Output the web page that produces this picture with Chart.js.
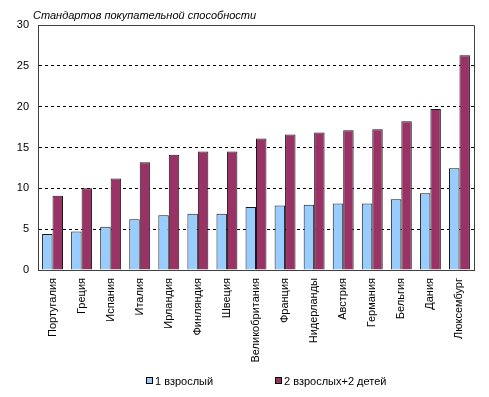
<!DOCTYPE html>
<html>
<head>
<meta charset="utf-8">
<script src="https://cdn.jsdelivr.net/npm/chart.js@4.4.0/dist/chart.umd.min.js"></script>
<style>
    html, body { margin: 0; padding: 0; background: #ffffff; }
    #wrap { width: 489px; height: 397px; }
</style>
</head>
<body>
<div id="wrap"><canvas id="ppsChart" width="489" height="397"></canvas></div>
<script>
// Dados do gráfico
const paises = ['Португалия', 'Греция', 'Испания', 'Италия', 'Ирландия', 'Финляндия', 'Швеция',
    'Великобритания', 'Франция', 'Нидерланды', 'Австрия', 'Германия', 'Бельгия', 'Дания', 'Люксембург'];
const umAdulto = [4.4, 4.7, 5.3, 6.2, 6.7, 6.9, 6.9, 7.7, 7.9, 8.0, 8.15, 8.15, 8.65, 9.4, 12.45];
const doisAdultos = [9.1, 10.0, 11.2, 13.2, 14.1, 14.5, 14.5, 16.1, 16.6, 16.85, 17.1, 17.25, 18.2, 19.7, 26.3];
const ticksY = [0, 5, 10, 15, 20, 25, 30];
const nomesSeries = ['1 взрослый', '2 взрослых+2 детей'];
const tituloEixo = 'Стандартов покупательной способности';

const FONTE = "'Liberation Sans', Arial, sans-serif";
const CORES = ['#99ccff', '#993366'];

// Título do eixo, moldura e legenda desenhados à mão
const extrasPlugin = {
    id: 'extras',
    afterDraw(chart) {
        const c = chart.ctx;
        const area = chart.chartArea;
        c.save();

        // moldura (topo e direita)
        c.strokeStyle = '#404040';
        c.lineWidth = 1;
        c.beginPath();
        c.moveTo(Math.round(area.left) + 0.5, Math.round(area.top) + 0.5);
        c.lineTo(Math.round(area.right) + 0.5, Math.round(area.top) + 0.5);
        c.lineTo(Math.round(area.right) + 0.5, Math.round(area.bottom) + 0.5);
        c.stroke();

        // título
        c.fillStyle = '#000000';
        c.font = 'italic 11px ' + FONTE;
        c.textBaseline = 'alphabetic';
        c.textAlign = 'left';
        c.fillText(tituloEixo, 33, 19);

        // legenda
        const posX = [146, 275];
        const yMeio = 381;
        c.font = '11px ' + FONTE;
        c.textBaseline = 'middle';
        chart.data.datasets.forEach((ds, i) => {
            const x = posX[i];
            c.fillStyle = ds.backgroundColor;
            c.fillRect(x + 0.5, yMeio - 3.5, 6, 6);
            c.strokeStyle = '#000000';
            c.strokeRect(x + 0.5, yMeio - 3.5, 6, 6);
            c.fillStyle = '#000000';
            c.fillText(ds.label, x + 9, yMeio + 0.5);
        });
        c.restore();
    }
};

const ctx = document.getElementById('ppsChart').getContext('2d');

new Chart(ctx, {
    type: 'bar',
    data: {
        labels: paises,
        datasets: [
            {
                label: nomesSeries[0],
                data: umAdulto,
                backgroundColor: CORES[0],
                borderColor: '#1a1a1a',
                borderWidth: 1,
            },
            {
                label: nomesSeries[1],
                data: doisAdultos,
                backgroundColor: CORES[1],
                borderColor: '#1a1a1a',
                borderWidth: 1,
            }
        ]
    },
    options: {
        responsive: false,
        animation: false,
        datasets: {
            bar: { categoryPercentage: 0.72, barPercentage: 1.0 }
        },
        layout: { padding: { top: 25, right: 15, left: 0, bottom: 0 } },
        plugins: {
            legend: { display: false },
            title: { display: false },
            tooltip: { enabled: false }
        },
        scales: {
            x: {
                grid: { display: false, drawTicks: false },
                border: { color: '#404040', width: 1 },
                ticks: {
                    minRotation: 90,
                    maxRotation: 90,
                    autoSkip: false,
                    padding: 8,
                    color: '#000000',
                    font: { family: FONTE, size: 11 }
                },
                afterFit: (scale) => { scale.height = 127; }
            },
            y: {
                min: 0,
                max: 30,
                afterBuildTicks: (scale) => { scale.ticks = ticksY.map(v => ({ value: v })); },
                ticks: {
                    padding: 9,
                    color: '#000000',
                    font: { family: FONTE, size: 11 }
                },
                grid: {
                    drawTicks: false,
                    lineWidth: 1,
                    color: (c) => (c.tick && (c.tick.value === 0 || c.tick.value === 30)) ? 'rgba(0,0,0,0)' : '#000000'
                },
                border: { color: '#404040', width: 1, dash: [3, 3] },
                afterFit: (scale) => { scale.width = 38; }
            }
        }
    },
    plugins: [extrasPlugin]
});
</script>
</body>
</html>
